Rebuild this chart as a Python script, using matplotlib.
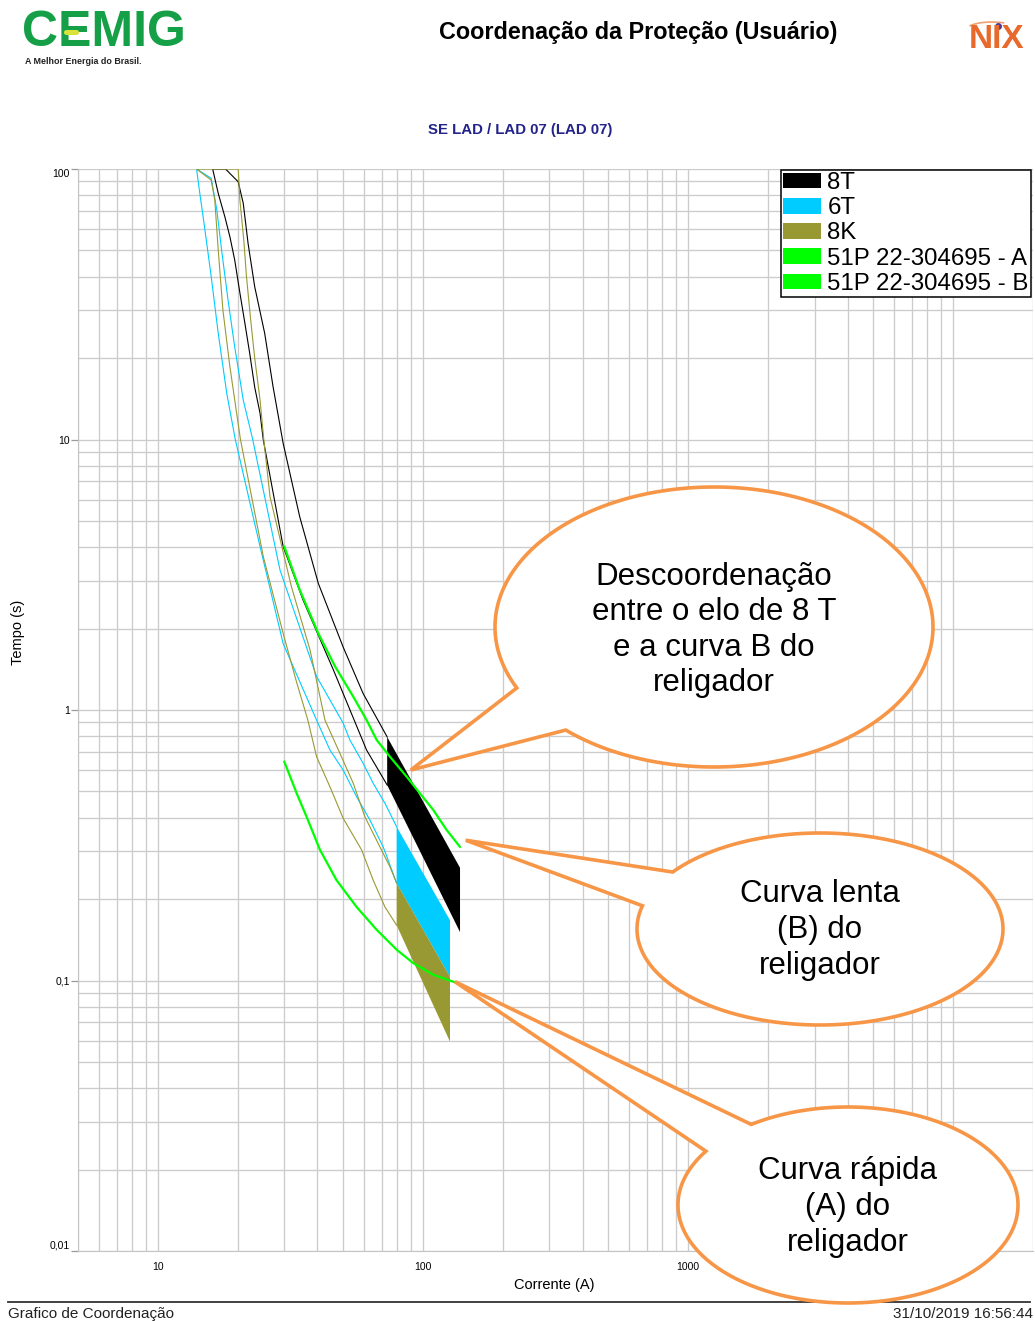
import numpy as np
import matplotlib
matplotlib.use('Agg')
import matplotlib.pyplot as plt
from matplotlib.patches import Patch, PathPatch, Arc, FancyBboxPatch
from matplotlib.path import Path
from matplotlib.ticker import FixedLocator, FixedFormatter, NullFormatter

plt.rcParams['font.family'] = ['Liberation Sans', 'DejaVu Sans']

# fuse link curves: current (A) vs time (s); min melting / total clearing
i_8t_min = [16.1, 16.9, 17.9, 18.7, 19.5, 20.4, 21.2, 22.2, 23.2, 24.3, 25.0, 29.7, 35.3, 45.9, 61.3, 73.3, 138]
t_8t_min = [100, 81.3, 66.6, 56.2, 46.1, 34.8, 27.7, 20.9, 15.6, 12.5, 9.96, 4.02, 2.55, 1.41, 0.711, 0.528, 0.151]
i_8t_max = [18.0, 20.1, 21.0, 21.9, 23.2, 25.3, 27.2, 29.7, 34.3, 40.3, 50.0, 59.5, 73.3, 138]
t_8t_max = [100, 89.7, 74.7, 53.1, 36.7, 24.7, 15.7, 9.68, 5.18, 2.94, 1.71, 1.15, 0.795, 0.261]

i_6t_min = [14.0, 14.4, 15.0, 15.9, 16.9, 18.2, 19.6, 24.3, 29.7, 39.7, 44.6, 50.0, 56.2, 63.1, 70.8, 79.6, 126.5]
t_6t_min = [100, 81.3, 61.2, 40.0, 24.7, 14.8, 10.0, 4.02, 1.76, 0.918, 0.711, 0.600, 0.478, 0.392, 0.312, 0.229, 0.103]
i_6t_max = [15.9, 16.7, 17.4, 18.4, 19.5, 21.0, 22.8, 28.9, 39.7, 50.0, 53.0, 59.5, 64.9, 71.9, 79.6, 126.5]
t_6t_max = [92.4, 70.5, 50.2, 32.8, 22.0, 14.0, 10.0, 3.29, 1.33, 0.895, 0.775, 0.635, 0.536, 0.452, 0.370, 0.167]

i_8k_min = [14.0, 15.9, 16.4, 16.9, 17.6, 18.7, 20.5, 25.0, 29.7, 33.2, 36.8, 39.7, 44.6, 50.0, 58.7, 64.9, 71.9, 79.6, 126.5]
t_8k_min = [100, 91.0, 76.8, 50.2, 30.1, 18.6, 10.0, 3.69, 1.92, 1.29, 0.918, 0.672, 0.520, 0.398, 0.304, 0.235, 0.187, 0.160, 0.0594]
i_8k_max = [20.1, 20.4, 21.1, 21.6, 22.4, 23.2, 24.3, 25.1, 26.5, 31.9, 37.5, 42.7, 48.6, 54.6, 60.4, 68.8, 75.1, 79.6, 126.5]
t_8k_max = [100, 76.8, 54.6, 40.0, 27.7, 20.0, 14.0, 10.0, 6.14, 2.86, 1.67, 0.918, 0.692, 0.536, 0.403, 0.312, 0.263, 0.229, 0.103]

# shaded short-circuit range per fuse (A)
fill_from = {'8T': 73.3, '6T': 79.6, '8K': 79.6}

# recloser 51P curves
i_rel_b = [30.0, 34.3, 40.3, 46.6, 54.6, 61.3, 66.9, 75.1, 86.8, 97.4, 109.4, 122.9, 137.9]
t_rel_b = [4.02, 2.78, 1.92, 1.45, 1.12, 0.918, 0.775, 0.672, 0.567, 0.492, 0.427, 0.360, 0.312]
i_rel_a = [30.0, 33.4, 36.4, 40.9, 47.2, 56.2, 66.9, 79.6, 91.9, 109.4, 137.9]
t_rel_a = [0.644, 0.492, 0.403, 0.304, 0.235, 0.187, 0.154, 0.130, 0.116, 0.105, 0.097]

x_major = [10, 100, 1000, 10000]
x_major_labels = ['10', '100', '1000', '10000']
y_major = [0.01, 0.1, 1, 10, 100]
y_major_labels = ['0,01', '0,1', '1', '10', '100']

legend_labels = ['8T', '6T', '8K', '51P 22-304695 - A', '51P 22-304695 - B']
legend_colors = ['#000000', '#00CCFF', '#999933', '#00FF00', '#00FF00']

callout_texts = ['Descoordenação\nentre o elo de 8 T\ne a curva B do\nreligador',
                 'Curva lenta\n(B) do\nreligador',
                 'Curva rápida\n(A) do\nreligador']
callout_targets = [(90, 0.60), (145, 0.33), (132, 0.099)]

W, H = 1035, 1321
fig = plt.figure(figsize=(W / 100, H / 100), dpi=100)
ax = fig.add_axes([78 / W, (H - 1251) / H, (1033 - 78) / W, (1251 - 169) / H])
ax.set_xscale('log')
ax.set_yscale('log')
ax.set_xlim(5, 20000)
ax.set_ylim(0.01, 100)

x_minor = [m * 10 ** e for e in range(0, 5) for m in range(2, 10)]
y_minor = [m * 10 ** e for e in range(-2, 2) for m in range(2, 10)]
ax.xaxis.set_major_locator(FixedLocator(x_major))
ax.xaxis.set_major_formatter(FixedFormatter(x_major_labels))
ax.xaxis.set_minor_locator(FixedLocator(x_minor))
ax.xaxis.set_minor_formatter(NullFormatter())
ax.yaxis.set_major_locator(FixedLocator(y_major))
ax.yaxis.set_major_formatter(FixedFormatter(y_major_labels))
ax.yaxis.set_minor_locator(FixedLocator(y_minor))
ax.yaxis.set_minor_formatter(NullFormatter())
ax.grid(which='both', color='#cccccc', lw=0.95)
ax.set_axisbelow(True)
for s in ['top', 'right']:
    ax.spines[s].set_visible(False)
for s in ['left', 'bottom']:
    ax.spines[s].set_color('#c4c4c4')
ax.tick_params(axis='x', which='both', length=0, pad=8, labelsize=7.5)
ax.tick_params(axis='y', which='major', length=5, width=0.9, color='#999999', pad=1, labelsize=7.5)
ax.tick_params(axis='y', which='minor', length=0)


def draw_fuse(color, i_min, t_min, i_max, t_max, i_from):
    i_min, t_min = np.asarray(i_min), np.asarray(t_min)
    i_max, t_max = np.asarray(i_max), np.asarray(t_max)
    lo, hi = i_min <= i_from, i_max <= i_from
    ax.plot(np.r_[i_min[lo][::-1], i_max[hi]], np.r_[t_min[lo][::-1], t_max[hi]],
            color=color, lw=0.8, zorder=2)
    a, b = i_min >= i_from, i_max >= i_from
    ax.fill(np.r_[i_max[b], i_min[a][::-1]], np.r_[t_max[b], t_min[a][::-1]],
            color=color, lw=0, zorder=3)


draw_fuse('#000000', i_8t_min, t_8t_min, i_8t_max, t_8t_max, fill_from['8T'])
draw_fuse('#00CCFF', i_6t_min, t_6t_min, i_6t_max, t_6t_max, fill_from['6T'])
draw_fuse('#999933', i_8k_min, t_8k_min, i_8k_max, t_8k_max, fill_from['8K'])
ax.plot(i_rel_a, t_rel_a, color='#00FF00', lw=1.6, zorder=4)
ax.plot(i_rel_b, t_rel_b, color='#00FF00', lw=1.6, zorder=4)

for lab in ax.get_yticklabels():
    if lab.get_text() == '100':
        lab.set_va('top')
    elif lab.get_text() == '0,01':
        lab.set_va('bottom')

ax.set_xlabel('Corrente (A)', fontsize=10.5)
ax.set_ylabel('Tempo (s)', fontsize=10.5)
ax.xaxis.set_label_coords((554 - 78) / 955, (1251 - 1285) / 1082)
ax.yaxis.set_label_coords((18 - 78) / 955, (1251 - 632) / 1082)
ax.xaxis.label.set_va('center')
ax.yaxis.label.set_va('center')

handles = [Patch(facecolor=c, edgecolor='none') for c in legend_colors]
leg = ax.legend(handles, legend_labels, loc='upper right', bbox_to_anchor=(0.9975, 0.999),
                borderaxespad=0, fontsize=17.3, handlelength=1.55, handleheight=0.62,
                handletextpad=0.28, labelspacing=0.135, borderpad=0.08, fancybox=False,
                framealpha=1, edgecolor='#000000')
leg.get_frame().set_linewidth(1.1)
leg.set_zorder(6)

# page overlay in pixel units (y down) for header, footer and callouts
ov = fig.add_axes([0, 0, 1, 1], zorder=10)
ov.set_xlim(0, W)
ov.set_ylim(H, 0)
ov.axis('off')
ov.patch.set_alpha(0)

ov.text(22, 33, 'CEMIG', fontsize=36, fontweight='bold', color='#15a047', va='center', ha='left')
ov.add_patch(FancyBboxPatch((64, 30), 15, 5, boxstyle='round,pad=0,rounding_size=2.5',
                            fc='#d8e23a', ec='none', zorder=4))
ov.text(25, 62, 'A Melhor Energia do Brasil.', fontsize=6.4, fontweight='bold', color='#222222',
        va='center', ha='left')
ov.text(997, 39, 'NIX', fontsize=24, fontweight='bold', color='#e8692c', va='center', ha='center')
ov.add_patch(Arc((992, 30), 52, 16, theta1=190, theta2=330, color='#f0a070', lw=1.2))
ov.plot([998], [26], 'o', ms=4, color='#4a3c9a')
ov.text(638, 33, 'Coordenação da Proteção (Usuário)', fontsize=16.8, fontweight='bold',
        ha='center', va='center')
ov.text(520, 130, 'SE LAD / LAD 07 (LAD 07)', fontsize=10.8, fontweight='bold', color='#23238a',
        ha='center', va='center')

ov.plot([8, 1030], [1302, 1302], color='#333333', lw=1.3)
ov.text(8, 1314, 'Grafico de Coordenação', fontsize=11, ha='left', va='center', color='#222222')
ov.text(1033, 1314, '31/10/2019 16:56:44', fontsize=11, ha='right', va='center', color='#222222')


def callout(cx, cy, rx, ry, th_a, th_b, target, text, ty):
    tip = ov.transData.inverted().transform(ax.transData.transform(target))
    th = np.radians(np.linspace(th_a, th_b, 240))
    verts = np.c_[cx + rx * np.cos(th), cy + ry * np.sin(th)]
    verts = np.vstack([verts, tip, verts[0]])
    codes = [Path.MOVETO] + [Path.LINETO] * (len(verts) - 2) + [Path.CLOSEPOLY]
    ov.add_patch(PathPatch(Path(verts, codes), facecolor='white', edgecolor='#F79646',
                           lw=2.6, joinstyle='miter', zorder=5))
    ov.text(cx, ty, text, fontsize=22.5, ha='center', va='center', linespacing=1.24, zorder=6)


callout(714, 627, 219, 140, 154.2, 492.6, callout_targets[0], callout_texts[0], 630)
callout(820, 929, 183, 96, 216.4, 554.0, callout_targets[1], callout_texts[1], 930)
callout(848, 1205, 170, 98, 235.3, 573.3, callout_targets[2], callout_texts[2], 1207)

fig.savefig('out.png', dpi=100)
